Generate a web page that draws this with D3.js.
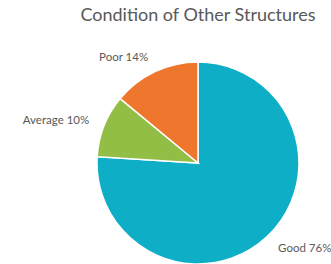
<!DOCTYPE html>
<html>
<head>
<meta charset="UTF-8">
<style>
  body { margin: 0; background: #fff; }
  text { font-family: Lato, "Open Sans", sans-serif; fill: #595959; }
</style>
</head>
<body>
<svg id="chart" width="331" height="264"></svg>
<script src="https://d3js.org/d3.v7.min.js"></script>
<script>
  const categories = ["Good", "Average", "Poor"];
  const values = [76, 10, 14];
  const colors = ["#0eafc6", "#92be45", "#ee772d"];
  const title = "Condition of Other Structures";

  const svg = d3.select("#chart");
  const cx = 198, cy = 163, r = 101;

  const data = categories.map((c, i) => ({ name: c, value: values[i], color: colors[i] }));

  const pie = d3.pie().value(d => d.value).sort(null);
  const arc = d3.arc().innerRadius(0).outerRadius(r);
  const labelArc = d3.arc().innerRadius(117).outerRadius(117);

  const g = svg.append("g").attr("transform", `translate(${cx},${cy})`);

  g.selectAll("path")
    .data(pie(data))
    .enter().append("path")
    .attr("d", arc)
    .attr("fill", d => d.data.color)
    .attr("stroke", "#fff")
    .attr("stroke-width", 1.5);

  g.selectAll(".label")
    .data(pie(data))
    .enter().append("text")
    .attr("class", "label")
    .attr("x", d => labelArc.centroid(d)[0])
    .attr("y", d => labelArc.centroid(d)[1])
    .attr("dy", "0.35em")
    .attr("text-anchor", d => labelArc.centroid(d)[0] < 0 ? "end" : "start")
    .style("font-size", "11.5px")
    .text(d => `${d.data.name} ${d.data.value}%`);

  // titre centré sur le camembert
  svg.append("text")
    .attr("x", cx)
    .attr("y", 21)
    .attr("text-anchor", "middle")
    .style("font-size", "18px")
    .text(title);
</script>
</body>
</html>
